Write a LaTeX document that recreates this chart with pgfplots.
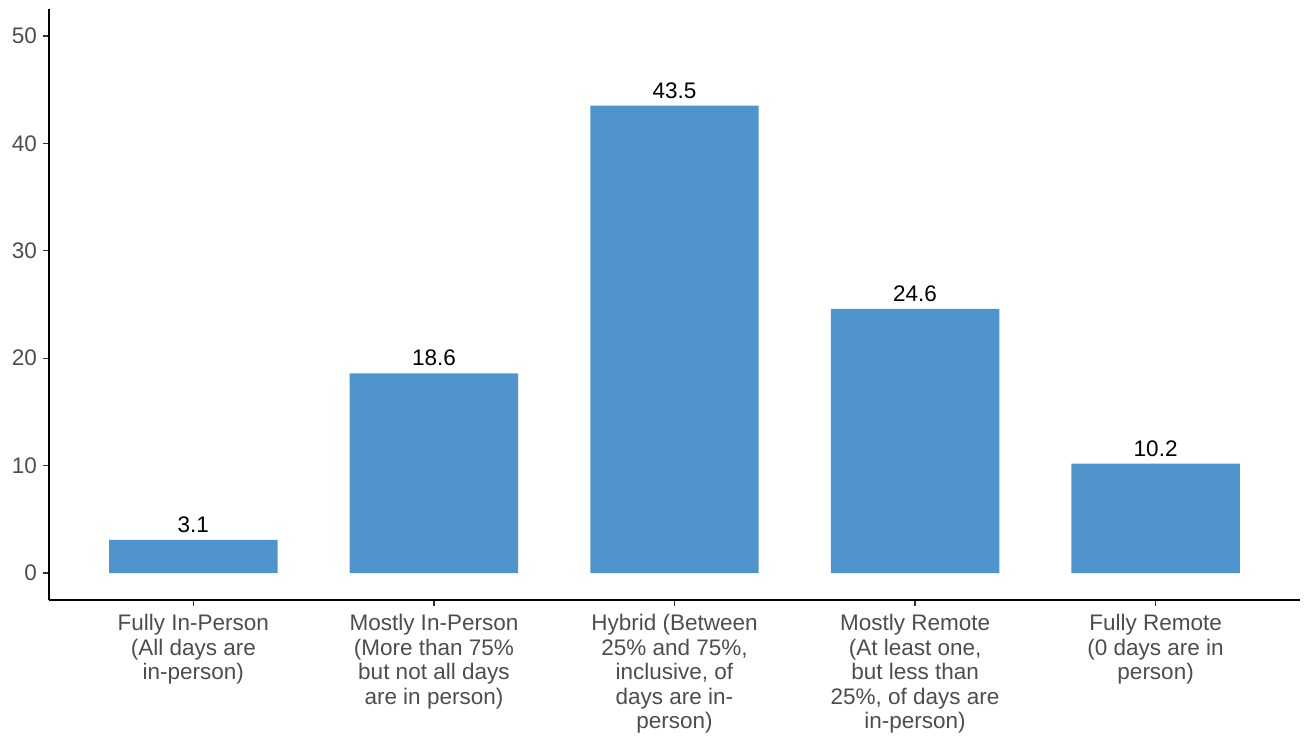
\documentclass[border=0pt]{standalone}
\usepackage{fontspec}
\setmainfont{Liberation Sans}
\usepackage{pgfplots}
\pgfplotsset{compat=1.18}
\definecolor{barblue}{HTML}{4F94CD}
\definecolor{ticktext}{HTML}{4D4D4D}
\definecolor{tickline}{HTML}{333333}
\newcommand{\lblfont}{\fontsize{22.5bp}{24.5bp}\selectfont}
\begin{document}
\begin{tikzpicture}
\begin{axis}[
  at={(0,0)}, anchor=south west,
  scale only axis, width=1251bp, height=591bp,
  xmin=0.4, xmax=5.6, ymin=-2.5, ymax=52.5,
  axis x line*=bottom, axis y line*=left,
  axis line style={line width=2bp, black, -},
  xtick={1,2,3,4,5},
  xticklabels={{Fully In-Person\\(All days are\\in-person)},
               {Mostly In-Person\\(More than 75\%\\but not all days\\are in person)},
               {Hybrid (Between\\25\% and 75\%,\\inclusive, of\\days are in-\\person)},
               {Mostly Remote\\(At least one,\\but less than\\25\%, of days are\\in-person)},
               {Fully Remote\\(0 days are in\\person)}},
  ytick={0,10,20,30,40,50},
  tick align=outside, major tick length=6bp,
  tick style={tickline, line width=1.3bp},
  x tick label style={align=center, font=\lblfont, text=ticktext, anchor=north, inner sep=0pt, yshift=-8bp},
  y tick label style={font=\lblfont, text=ticktext, anchor=east, inner sep=0pt, xshift=-6bp},
  /pgf/number format/assume math mode=true,
  ybar, bar width=0.7,
  nodes near coords={\pgfmathprintnumber[fixed,fixed zerofill,precision=1]{\pgfplotspointmeta}},
  every node near coord/.append style={font=\lblfont, text=black, anchor=south, inner sep=0pt, yshift=7bp},
]
\addplot[fill=barblue, draw=none] coordinates {(1,3.1) (2,18.6) (3,43.5) (4,24.6) (5,10.2)};
\end{axis}
\pgfresetboundingbox
\path[use as bounding box] (-49bp,-140bp) rectangle (1255bp,600bp);
\end{tikzpicture}
\end{document}
